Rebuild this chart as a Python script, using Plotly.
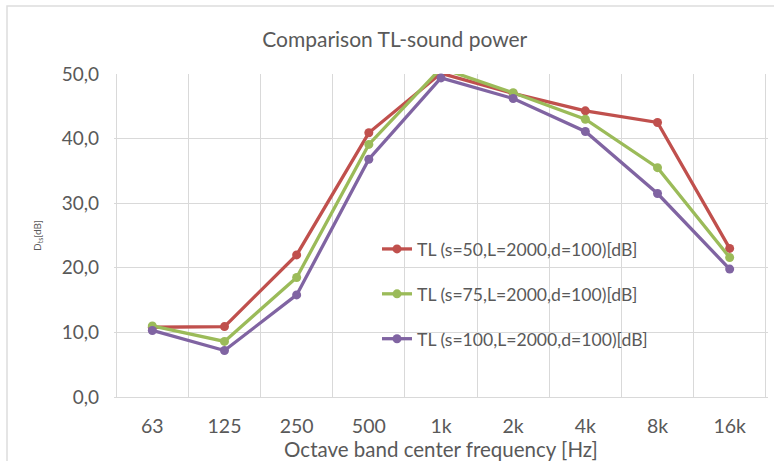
import plotly.graph_objects as go

categories = ["63", "125", "250", "500", "1k", "2k", "4k", "8k", "16k"]
tl_s50 = [10.8, 10.9, 22.0, 40.9, 50.1, 47.0, 44.3, 42.5, 23.0]
tl_s75 = [11.0, 8.6, 18.5, 39.1, 50.9, 47.1, 43.0, 35.5, 21.6]
tl_s100 = [10.3, 7.2, 15.8, 36.8, 49.4, 46.2, 41.1, 31.5, 19.8]
names = ["TL (s=50,L=2000,d=100)[dB]", "TL (s=75,L=2000,d=100)[dB]", "TL (s=100,L=2000,d=100)[dB]"]
colors = ["#C0504D", "#9BBB59", "#8064A2"]

FONT = "Lato"
GRAY = "#595959"

fig = go.Figure()
for i, (vals, name, col) in enumerate(zip([tl_s50, tl_s75, tl_s100], names, colors)):
    fig.add_trace(go.Scatter(
        x=categories, y=vals, name=name, mode="lines+markers",
        line=dict(color=col, width=3.3), marker=dict(color=col, size=9),
        cliponaxis=False, legendgroup=f"g{i}",
    ))

L, R, T, B = 114, 6, 74, 64
W, H = 774, 461
pw, ph = W - L - R, H - T - B

def px(x):
    return (x - L) / pw

def py(y):
    return (H - B - y) / ph

fig.update_layout(
    width=W, height=H,
    margin=dict(l=L, r=R, t=T, b=B, autoexpand=False),
    paper_bgcolor="white", plot_bgcolor="white",
    font=dict(family=FONT, color=GRAY),
    title=dict(text="Comparison TL-sound power", x=0.51, xanchor="center",
               y=1 - 40 / H, yanchor="middle", font=dict(size=21, color=GRAY)),
    separators=",.",
    showlegend=True,
    legend=dict(x=px(377), y=py(231), xanchor="left", yanchor="top",
                bgcolor="rgba(0,0,0,0)", font=dict(size=17.6, color=GRAY),
                tracegroupgap=19, traceorder="grouped"),
    xaxis=dict(type="category", tickson="boundaries", showgrid=True, gridcolor="#d9d9d9",
               gridwidth=1, ticks="", tickfont=dict(size=19.5, color=GRAY), automargin=False,
               showline=True, linecolor="#d9d9d9", zeroline=False, ticklabelstandoff=12,
               title=dict(text="Octave band center frequency [Hz]", standoff=0,
                          font=dict(size=20.5, color=GRAY))),
    yaxis=dict(range=[0, 50], dtick=10, tickformat=".1f", showgrid=True, gridcolor="#d9d9d9",
               gridwidth=1, ticks="", tickfont=dict(size=19, color=GRAY), zeroline=False,
               ticklabelstandoff=14, automargin=False,
               title=dict(text="D<sub>ts</sub>[dB]", standoff=18, font=dict(size=10, color=GRAY))),
    shapes=[dict(type="rect", xref="paper", yref="paper",
                 x0=px(7), x1=px(800), y0=py(6), y1=py(490),
                 line=dict(color="#dddddd", width=1.5), fillcolor="rgba(0,0,0,0)", layer="above")],
)

fig.write_html("out.html", config={"displayModeBar": False},
               post_script="document.body.style.margin='0';")
